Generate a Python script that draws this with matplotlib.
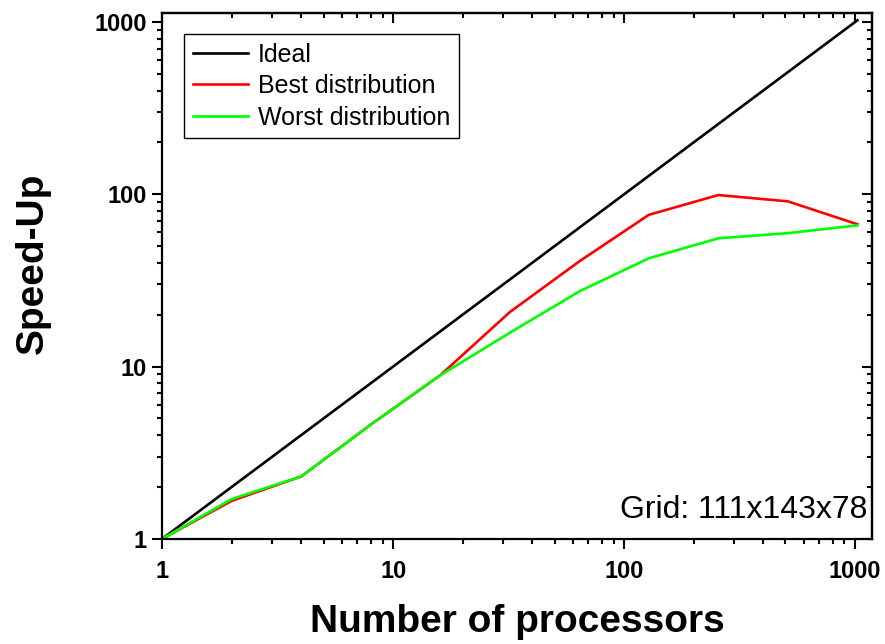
import matplotlib
matplotlib.use('Agg')
import matplotlib.pyplot as plt
from matplotlib.ticker import LogLocator, NullFormatter, FixedLocator, FixedFormatter

plt.rcParams['font.family'] = ['Liberation Sans', 'DejaVu Sans']

# processors (powers of two)
procs = [1, 2, 4, 8, 16, 32, 64, 128, 256, 512, 1024]
ideal = [1, 2, 4, 8, 16, 32, 64, 128, 256, 512, 1024]
best = [1, 1.66, 2.3, 4.6, 8.9, 20.7, 40.8, 76, 99, 91, 67]
worst = [1, 1.7, 2.3, 4.6, 8.9, 15.7, 27.3, 42.5, 55.5, 59.5, 66]

x_ticks = [1, 10, 100, 1000]
x_labels = ['1', '10', '100', '1000']
y_ticks = [1, 10, 100, 1000]
y_labels = ['1', '10', '100', '1000']

fig = plt.figure(figsize=(8.85, 6.44), dpi=100)
ax = fig.add_axes([0.1834, 0.1635, 0.8019, 0.8168])

ax.plot(procs, ideal, color='black', lw=1.9, label='Ideal')
ax.plot(procs, best, color='#ff0000', lw=1.9, label='Best distribution')
ax.plot(procs, worst, color='#00ff00', lw=1.9, label='Worst distribution')

ax.set_xscale('log')
ax.set_yscale('log')
ax.set_xlim(1, 1185)
ax.set_ylim(1, 1134)

for a in (ax.xaxis, ax.yaxis):
    a.set_major_locator(FixedLocator(x_ticks))
    a.set_minor_locator(LogLocator(base=10, subs=range(2, 10)))
    a.set_minor_formatter(NullFormatter())
ax.xaxis.set_major_formatter(FixedFormatter(x_labels))
ax.yaxis.set_major_formatter(FixedFormatter(y_labels))

ax.tick_params(which='both', direction='out', width=1.5, labelsize=17)
ax.tick_params(axis='x', pad=8)
ax.tick_params(axis='y', pad=4)
ax.tick_params(which='major', length=7)
ax.tick_params(which='minor', length=3.5)
for lab in ax.get_xticklabels() + ax.get_yticklabels():
    lab.set_fontweight('bold')

# mirrored ticks on top/right pointing inward
secx = ax.secondary_xaxis('top')
secx.set_xscale('log')
secx.xaxis.set_major_locator(FixedLocator(x_ticks))
secx.xaxis.set_minor_locator(LogLocator(base=10, subs=range(2, 10)))
secx.tick_params(which='both', direction='in', width=1.5, labeltop=False)
secx.tick_params(which='major', length=7)
secx.tick_params(which='minor', length=3.5)
secx.xaxis.set_major_formatter(NullFormatter())
secx.xaxis.set_minor_formatter(NullFormatter())

secy = ax.secondary_yaxis('right')
secy.set_yscale('log')
secy.yaxis.set_major_locator(FixedLocator(y_ticks))
secy.yaxis.set_minor_locator(LogLocator(base=10, subs=range(2, 10)))
secy.tick_params(which='both', direction='in', width=1.5, labelright=False)
secy.tick_params(which='major', length=7)
secy.tick_params(which='minor', length=3.5)
secy.yaxis.set_major_formatter(NullFormatter())
secy.yaxis.set_minor_formatter(NullFormatter())

for s in ax.spines.values():
    s.set_linewidth(1.6)
for s in list(secx.spines.values()) + list(secy.spines.values()):
    s.set_linewidth(1.6)

ax.set_xlabel('Number of processors', fontsize=28, fontweight='bold')
ax.xaxis.set_label_coords(0.5, -0.125)
ax.set_ylabel('Speed-Up', fontsize=28, fontweight='bold')
ax.yaxis.set_label_coords(-0.157, 0.524)

leg = ax.legend(loc='upper left', bbox_to_anchor=(0.0306, 0.9595), borderaxespad=0,
                fontsize=18, handlelength=2.2, handletextpad=0.4, labelspacing=0.3,
                borderpad=0.35, fancybox=False, framealpha=1)
leg.get_frame().set_edgecolor('black')
leg.get_frame().set_linewidth(1.0)

ax.text(0.993, 0.04, 'Grid: 111x143x78', transform=ax.transAxes, ha='right', va='baseline',
        fontsize=23)

fig.savefig('out.png', dpi=100)
